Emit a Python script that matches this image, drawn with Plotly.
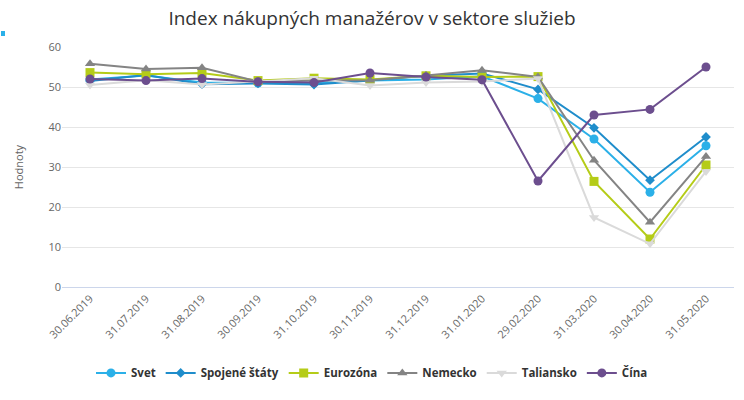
import plotly.graph_objects as go

dates = ["30.06.2019", "31.07.2019", "31.08.2019", "30.09.2019", "31.10.2019", "30.11.2019",
         "31.12.2019", "31.01.2020", "29.02.2020", "31.03.2020", "30.04.2020", "31.05.2020"]

svet = [51.9, 52.9, 51.1, 51.0, 51.0, 51.6, 51.9, 52.7, 47.1, 37.0, 23.7, 35.3]
usa = [51.5, 53.0, 50.7, 50.9, 50.6, 51.6, 52.8, 53.4, 49.4, 39.8, 26.7, 37.5]
eurozona = [53.6, 53.2, 53.5, 51.6, 52.2, 51.9, 52.8, 52.5, 52.6, 26.4, 12.0, 30.5]
nemecko = [55.8, 54.5, 54.8, 51.4, 51.6, 51.7, 52.9, 54.2, 52.5, 31.7, 16.2, 32.6]
taliansko = [50.5, 51.7, 50.6, 51.4, 52.2, 50.4, 51.1, 51.4, 52.1, 17.4, 10.8, 28.9]
cina = [52.0, 51.6, 52.1, 51.3, 51.1, 53.5, 52.5, 51.8, 26.5, 43.0, 44.4, 55.0]

series = [
    ("Svet", svet, "#2bb0e8", "circle"),
    ("Spojené štáty", usa, "#1f8dcb", "diamond"),
    ("Eurozóna", eurozona, "#b5cc18", "square"),
    ("Nemecko", nemecko, "#848484", "triangle-up"),
    ("Taliansko", taliansko, "#dadada", "triangle-down"),
    ("Čína", cina, "#6c4e8e", "circle"),
]

font_family = "Open Sans, DejaVu Sans, sans-serif"

fig = go.Figure()
for name, vals, color, sym in series:
    fig.add_trace(go.Scatter(
        x=dates, y=vals, name=name, mode="lines+markers",
        line=dict(color=color, width=2),
        marker=dict(color=color, symbol=sym, size=7.5 if sym == "diamond" else 9,
                    line=dict(width=0)),
    ))

fig.update_layout(
    width=744, height=400,
    margin=dict(l=62, r=10, t=47, b=113),
    paper_bgcolor="white", plot_bgcolor="white",
    font=dict(family=font_family, color="#666666", size=11),
    title=dict(text="Index nákupných manažérov v sektore služieb",
               x=0.5, xanchor="center", xref="container", y=1 - 18 / 400, yanchor="middle",
               font=dict(size=19, color="#333333", family=font_family)),
    xaxis=dict(type="category", tickangle=-45, showgrid=False,
               showline=True, linecolor="#ccd6eb", linewidth=1,
               ticks="", tickfont=dict(size=11, color="#666666"),
               range=[-0.5, len(dates) - 0.5], zeroline=False),
    yaxis=dict(range=[0, 60], dtick=10, gridcolor="#e6e6e6", gridwidth=1,
               zeroline=False, showline=False, ticks="",
               tickfont=dict(size=11, color="#666666"),
               title=dict(text="Hodnoty", font=dict(size=11, color="#666666"), standoff=22)),
    legend=dict(orientation="h", x=(372 - 62) / 672, xanchor="center",
                y=-0.358, yanchor="middle",
                font=dict(size=11.5, color="#333333", family=font_family, weight="bold"),
                itemwidth=30, tracegroupgap=0),
    showlegend=True,
)

fig.add_shape(type="rect", xref="paper", yref="paper",
              x0=(1 - 62) / 672, x1=(5 - 62) / 672,
              y0=(287 - 36) / 240, y1=(287 - 31) / 240,
              fillcolor="#2bb0e8", line=dict(width=0))

fig.write_html("out.html")
